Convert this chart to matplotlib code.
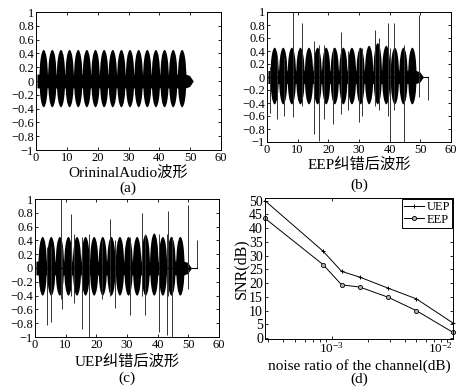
import numpy as np
import matplotlib.pyplot as plt
from matplotlib.patches import Ellipse

plt.rcParams['font.family'] = ['Liberation Serif', 'Noto Sans CJK SC']
plt.rcParams['axes.unicode_minus'] = True

W, H = 458, 386

# burst centres of the audio waveform (same song in all three panels)
burst_x = [2.5, 5.3, 8.1, 10.9, 13.7, 16.5, 19.3, 22.1, 24.9, 27.7,
           30.5, 33.3, 36.1, 38.9, 41.7, 44.5, 47.4]
orig_top = [0.45] * 17
orig_bot = [-0.38] * 17
eep_top = [0.45, 0.45, 0.45, 0.45, 0.45, 0.45, 0.45, 0.45, 0.45, 0.45,
           0.45, 0.48, 0.52, 0.48, 0.45, 0.45, 0.45]
eep_bot = [-0.42] * 17
uep_top = [0.45, 0.45, 0.45, 0.45, 0.45, 0.45, 0.45, 0.45, 0.45, 0.45,
           0.45, 0.45, 0.48, 0.5, 0.45, 0.45, 0.45]
uep_bot = [-0.4] * 17

# thin carrier band between bursts
band_x = [0.3, 48.5, 49.8, 51.0]
band_hi = [0.1, 0.1, 0.08, 0.0]
band_lo = [-0.1, -0.1, -0.08, 0.0]

# error spikes after decoding
eep_spike_x = [1.0, 3.4, 5.6, 8.4, 11.4, 15.2, 17.1, 18.6, 21.5, 24.2, 26.3,
               29.9, 31.0, 35.1, 36.6, 39.3, 40.2, 41.5, 44.6, 49.7, 52.4]
eep_spike_hi = [0.15, 0.3, 0.3, 1.0, 0.83, 0.55, 0.5, 0.5, 0.45, 0.7, 0.4,
                0.45, 0.45, 0.73, 0.6, 0.83, 0.45, 0.83, 0.5, 0.95, 0.0]
eep_spike_lo = [-0.55, -0.64, -0.6, -0.62, -0.45, -0.88, -0.98, -0.64, -0.72,
                -0.57, -0.5, -0.69, -0.6, -0.45, -0.5, -0.6, -0.98, -0.5,
                -1.0, -0.3, -0.35]

uep_spike_x = [3.8, 5.1, 8.4, 8.7, 11.7, 12.6, 15.3, 17.5, 21.9, 24.3, 26.2,
               31.1, 34.8, 36.0, 40.4, 43.0, 43.5, 44.8, 50.0, 52.8]
uep_spike_hi = [0.3, 0.3, 1.0, 0.3, 0.78, 0.5, 0.45, 0.5, 0.4, 0.71, 0.4,
                0.45, 0.8, 0.5, 0.5, 0.5, 0.83, 0.45, 0.92, 0.4]
uep_spike_lo = [-0.83, -0.78, -0.45, -0.6, -0.4, -0.5, -0.88, -1.0, -0.45,
                -0.4, -0.58, -0.68, -0.4, -0.68, -0.93, -0.97, -0.4, -1.0,
                -0.3, 0.0]

# SNR vs channel noise ratio
noise = [2.83e-4, 8.5e-4, 1.21e-3, 1.71e-3, 2.92e-3, 5.0e-3, 1.0e-2]
snr_uep = [50.0, 31.7, 24.3, 22.2, 18.2, 14.3, 5.5]
snr_eep = [43.6, 26.8, 19.4, 18.6, 14.9, 10.0, 2.1]

ytick_vals = [1, 0.8, 0.6, 0.4, 0.2, 0, -0.2, -0.4, -0.6, -0.8, -1]


def box(left, top, right, bottom):
    return [left / W, 1 - bottom / H, (right - left) / W, (bottom - top) / H]


def style(ax):
    ax.tick_params(direction='in', top=True, right=True, labelsize=9,
                   length=2.5, width=0.6, pad=1.5)
    for s in ax.spines.values():
        s.set_linewidth(0.7)


def wave(ax, top, bot, sx=None, shi=None, slo=None, tail=None):
    ax.fill_between(band_x, band_lo, band_hi, color='black', lw=0)
    for x, t, b in zip(burst_x, top, bot):
        ax.add_patch(Ellipse((x, (t + b) / 2), 2.75, t - b, color='black', lw=0))
    if sx is not None:
        ax.vlines(sx, slo, shi, color='0.2', lw=0.7)
        ax.plot([band_x[0], tail], [0, 0], color='black', lw=0.8)
    ax.set_xlim(0, 60)
    ax.set_ylim(-1, 1)
    ax.set_xticks([0, 10, 20, 30, 40, 50, 60])
    ax.set_yticks(ytick_vals)
    ax.set_yticklabels(['1', '0.8', '0.6', '0.4', '0.2', '0', '\u22120.2',
                        '\u22120.4', '\u22120.6', '\u22120.8', '\u22121'])
    style(ax)


fig = plt.figure(figsize=(W / 100, H / 100), dpi=100)

ax_a = fig.add_axes(box(36, 12, 221, 150))
wave(ax_a, orig_top, orig_bot)

ax_b = fig.add_axes(box(267, 12, 451, 142))
wave(ax_b, eep_top, eep_bot, eep_spike_x, eep_spike_hi, eep_spike_lo, 52.4)

ax_c = fig.add_axes(box(35, 199, 219, 337))
wave(ax_c, uep_top, uep_bot, uep_spike_x, uep_spike_hi, uep_spike_lo, 52.8)

ax_d = fig.add_axes(box(265, 198, 453, 339))
ax_d.plot(noise, snr_uep, color='black', lw=0.7, marker='+', ms=3.5,
          mew=0.7, label='UEP', clip_on=False)
ax_d.plot(noise, snr_eep, color='black', lw=0.7, marker='o', ms=3,
          mfc='0.7', mec='black', mew=0.6, label='EEP', clip_on=False)
ax_d.set_xscale('log')
ax_d.set_xlim(2.83e-4, 1e-2)
ax_d.set_ylim(-0.3, 51)
ax_d.set_yticks(range(0, 51, 5))
ax_d.set_ylabel('SNR(dB)', fontsize=11.5, labelpad=0)
style(ax_d)
ax_d.tick_params(axis='y', labelsize=10)
ax_d.tick_params(axis='x', labelsize=9.5)
fig.canvas.draw()
for t in ax_d.get_xticklabels():
    if t.get_position()[0] >= 1e-2:
        t.set_horizontalalignment('right')
leg = ax_d.legend(loc='upper right', fontsize=9, handlelength=1.6,
                  borderpad=0.15, labelspacing=0.05, handletextpad=0.2,
                  borderaxespad=0.1, fancybox=False, framealpha=1)
leg.get_frame().set_edgecolor('black')
leg.get_frame().set_linewidth(0.7)


def label(x, y, s, size=11):
    fig.text(x / W, 1 - y / H, s, ha='center', va='center', fontsize=size)


label(128, 173, 'OrininalAudio波形')
label(128, 188, '(a)')
label(359, 165, 'EEP纠错后波形')
label(359, 185, '(b)')
label(127, 362, 'UEP纠错后波形')
label(127, 378, '(c)')
label(359, 366, 'noise ratio of the channel(dB)')
label(359, 379, '(d)')

fig.savefig('out.png', dpi=100)
